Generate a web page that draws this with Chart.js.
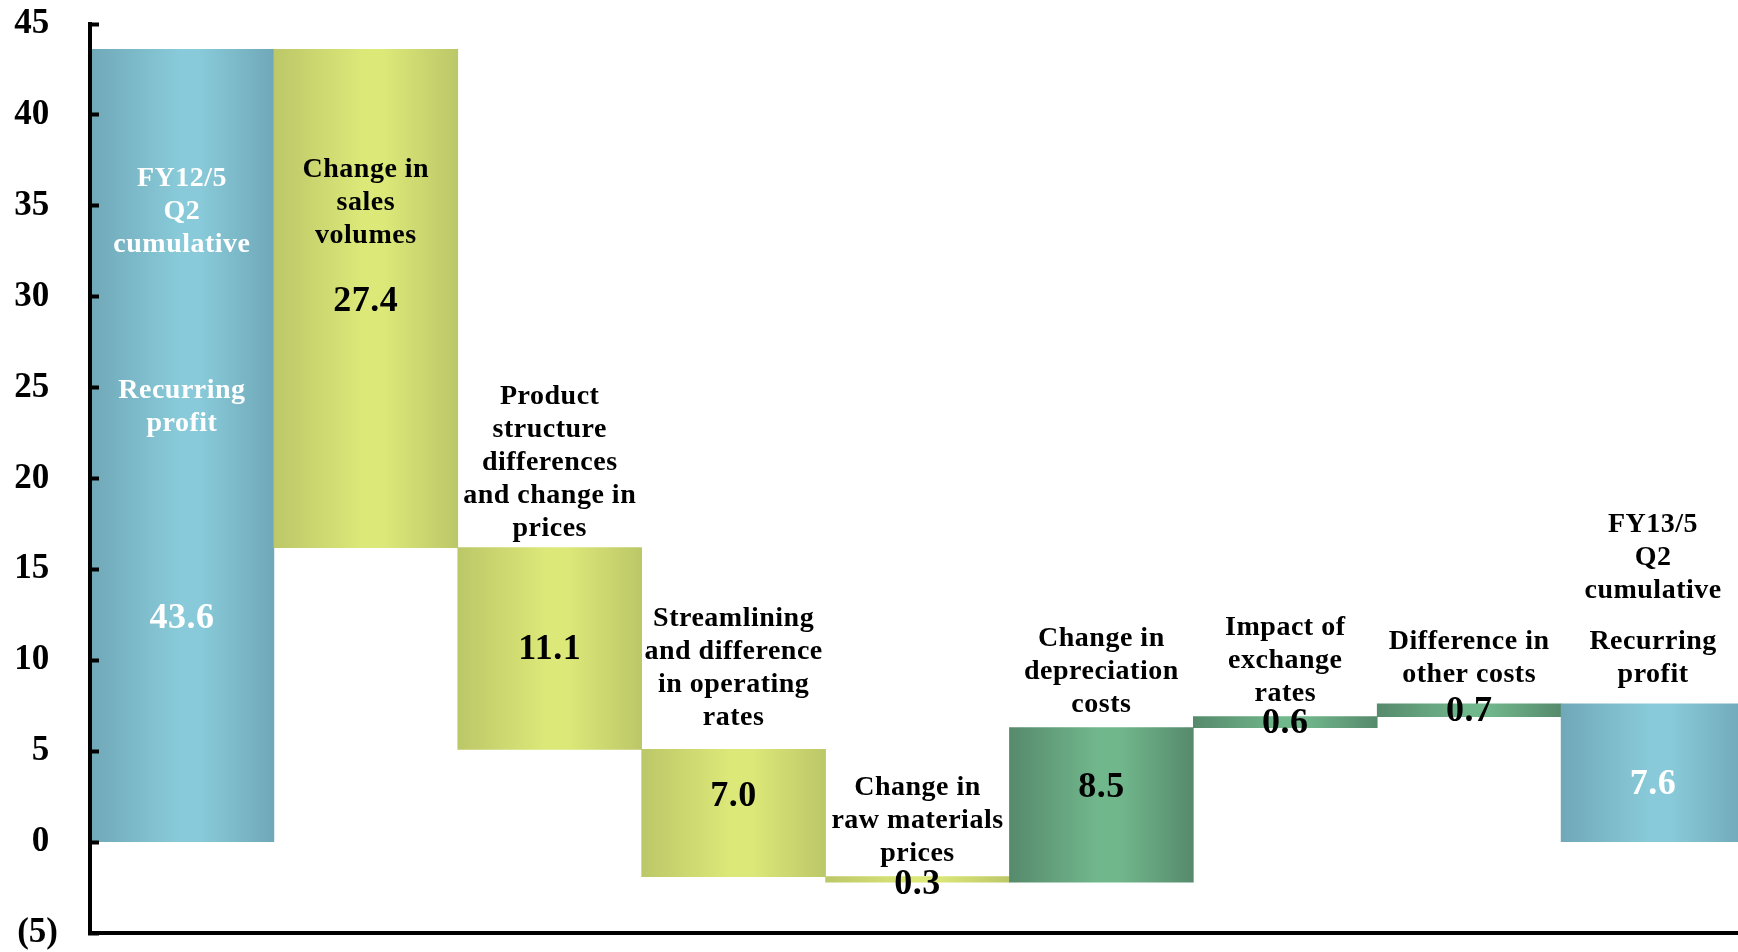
<!DOCTYPE html>
<html>
<head>
<meta charset="utf-8">
<title>Recurring profit bridge</title>
<script src="https://cdn.jsdelivr.net/npm/chart.js@4.4.0/dist/chart.umd.min.js"></script>
<style>
    html, body { margin: 0; padding: 0; background: #fff; overflow: hidden; }
    .chart-wrap { position: relative; width: 1745px; height: 952px; }
</style>
</head>
<body>
<div class="chart-wrap"><canvas id="bridgeChart"></canvas></div>
<script>
// Category names (one entry per line of text)
const categories = [
    ['FY12/5', 'Q2', 'cumulative'],
    ['Change in', 'sales', 'volumes'],
    ['Product', 'structure', 'differences', 'and change in', 'prices'],
    ['Streamlining', 'and difference', 'in operating', 'rates'],
    ['Change in', 'raw materials', 'prices'],
    ['Change in', 'depreciation', 'costs'],
    ['Impact of', 'exchange', 'rates'],
    ['Difference in', 'other costs'],
    ['FY13/5', 'Q2', 'cumulative']
];
const measureName = ['Recurring', 'profit'];

// Values and direction of each step
const values = [43.6, 27.4, 11.1, 7.0, 0.3, 8.5, 0.6, 0.7, 7.6];
const steps = ['total', 'down', 'down', 'down', 'down', 'up', 'up', 'up', 'total'];

// Tick labels of the value axis
const yTicks = [-5, 0, 5, 10, 15, 20, 25, 30, 35, 40, 45];

// Where the texts sit, in axis units (first line centre)
const nameAt = [36.5, 37.0, 24.5, 12.3, 3.0, 11.2, 11.8, 11.0, 17.45];
const measureAt = [24.8, null, null, null, null, null, null, null, 11.0];
const valueAt = [12.3, 29.7, 10.6, 2.5, -2.35, 3.0, 6.5, 7.2, 3.15];

const serif = "'Liberation Serif', 'Times New Roman', serif";
const nameFont = 'bold 28px ' + serif;
const valueFont = 'bold 36px ' + serif;
const lineGap = 33;

// edge colour, centre colour
const palettes = {
    total: ['#70a8b8', '#88cad9'],
    down: ['#bcc768', '#dce878'],
    up: ['#568a6c', '#71b78c']
};

// Turn the steps into floating bar ranges
let level = 0;
const ranges = values.map((v, i) => {
    if (steps[i] === 'total') {
        level = v;
        return [0, v];
    }
    const from = level;
    level = steps[i] === 'up' ? level + v : level - v;
    return [from, Math.round(level * 10) / 10];
});

// Horizontal gradient across each bar, lighter in the middle
function barFill(context) {
    const chart = context.chart;
    const area = chart.chartArea;
    const pal = palettes[steps[context.dataIndex]];
    if (!area) return pal[0];
    const half = (area.right - area.left) / categories.length / 2;
    const cx = chart.scales.x.getPixelForValue(context.dataIndex);
    const g = chart.ctx.createLinearGradient(cx - half, 0, cx + half, 0);
    g.addColorStop(0, pal[0]);
    g.addColorStop(0.48, pal[1]);
    g.addColorStop(0.6, pal[1]);
    g.addColorStop(1, pal[0]);
    return g;
}

function drawLines(ctx, lines, cx, top, color) {
    ctx.fillStyle = color;
    lines.forEach((line, k) => ctx.fillText(line, cx, top + k * lineGap));
}

const bridgeLabels = {
    id: 'bridgeLabels',
    afterDatasetsDraw(chart) {
        const {ctx, scales: {x, y}} = chart;
        const bars = chart.data.datasets[0].data;
        ctx.save();
        ctx.textAlign = 'center';
        ctx.textBaseline = 'middle';
        ctx.letterSpacing = '0.5px';
        categories.forEach((lines, i) => {
            const cx = x.getPixelForValue(i);
            const lo = Math.min(...bars[i]);
            const hi = Math.max(...bars[i]);
            // text that sits inside a total bar is white
            const ink = v => (steps[i] === 'total' && v > lo && v < hi) ? '#ffffff' : '#000000';

            ctx.font = nameFont;
            drawLines(ctx, lines, cx, y.getPixelForValue(nameAt[i]), ink(nameAt[i]));
            if (measureAt[i] !== null) {
                drawLines(ctx, measureName, cx, y.getPixelForValue(measureAt[i]), ink(measureAt[i]));
            }

            ctx.font = valueFont;
            ctx.fillStyle = ink(valueAt[i]);
            ctx.fillText(values[i].toFixed(1), cx, y.getPixelForValue(valueAt[i]));
        });
        ctx.restore();
    }
};

document.addEventListener('DOMContentLoaded', function() {
    const canvas = document.getElementById('bridgeChart');

    new Chart(canvas, {
        type: 'bar',
        data: {
            labels: categories.map(c => c.join(' ')),
            datasets: [{
                data: ranges,
                backgroundColor: barFill,
                borderWidth: 0,
                barPercentage: 1,
                categoryPercentage: 1
            }]
        },
        options: {
            responsive: true,
            maintainAspectRatio: false,
            animation: false,
            layout: { padding: { top: 24, left: 0, right: 0, bottom: 0 } },
            plugins: {
                legend: { display: false },
                tooltip: { enabled: false }
            },
            scales: {
                x: {
                    grid: { display: false },
                    ticks: { display: false },
                    border: { display: true, color: '#000', width: 4, z: 1 },
                    afterFit: scale => { scale.height = 19; }
                },
                y: {
                    min: yTicks[0],
                    max: yTicks[yTicks.length - 1],
                    afterBuildTicks: scale => {
                        scale.ticks = yTicks.map(v => ({ value: v }));
                    },
                    afterFit: scale => {
                        scale.width = 90;
                        scale.paddingTop = 0;
                        scale.paddingBottom = 0;
                    },
                    // grid layer drawn over the bars so the inner ticks stay visible
                    grid: {
                        z: 1,
                        drawOnChartArea: false,
                        drawTicks: true,
                        tickLength: -9,
                        tickWidth: 4,
                        tickColor: '#000'
                    },
                    border: { display: true, color: '#000', width: 4, z: 1 },
                    ticks: {
                        padding: 41,
                        color: '#000',
                        font: { family: serif, weight: 'bold', size: 35, lineHeight: 1 },
                        callback: v => v < 0 ? '(' + (-v) + ')' : v + ' '
                    }
                }
            }
        },
        plugins: [bridgeLabels]
    });
});
</script>
</body>
</html>
